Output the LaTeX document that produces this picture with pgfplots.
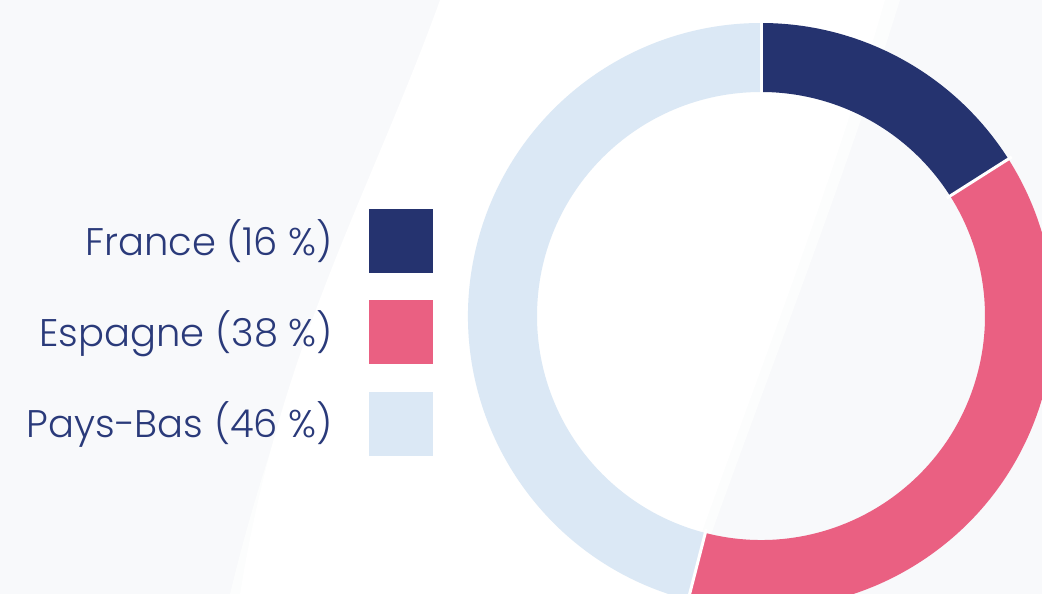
\documentclass[border=0pt]{standalone}
\usepackage{pgfplots}
\pgfplotsset{compat=1.18}
\usepackage{pgfplotstable}
\usepackage{fontspec}
\setmainfont{Poppins}[UprightFont=* Light]
\definecolor{cFr}{HTML}{25336F}
\definecolor{cEs}{HTML}{EA6082}
\definecolor{cPb}{HTML}{DBE8F5}
\definecolor{cTxt}{HTML}{2A3A7A}
\definecolor{cBg}{HTML}{F8F9FB}

\pgfplotstableread{
country share
France 16
Espagne 38
Pays-Bas 46
}\shares
\pgfplotstablegetelem{0}{share}\of\shares \let\sA\pgfplotsretval
\pgfplotstablegetelem{1}{share}\of\shares \let\sB\pgfplotsretval
\pgfplotstablegetelem{2}{share}\of\shares \let\sC\pgfplotsretval
\pgfmathsetmacro{\aA}{90}
\pgfmathsetmacro{\aB}{\aA-3.6*\sA}
\pgfmathsetmacro{\aC}{\aB-3.6*\sB}
\pgfmathsetmacro{\aD}{\aC-3.6*\sC}

\newcommand{\slice}[3]{%
  \fill[#3] ([shift={(axis cs:761,278)}]#1:293pt) arc[start angle=#1,end angle=#2,radius=293pt]
    -- ([shift={(axis cs:761,278)}]#2:224pt) arc[start angle=#2,end angle=#1,radius=224pt] -- cycle;}
\newcommand{\gap}[1]{%
  \draw[white, line width=3pt] ([shift={(axis cs:761,278)}]#1:220pt) -- ([shift={(axis cs:761,278)}]#1:297pt);}

\begin{document}
\begin{tikzpicture}
\begin{axis}[
  x=1pt, y=1pt, scale only axis,
  xmin=0, xmax=1042, ymin=0, ymax=594,
  hide axis, clip=true,
]
% background
\fill[cBg] (axis cs:0,0) rectangle (axis cs:1042,594);
\fill[white!60!cBg] (axis cs:450,594) .. controls (axis cs:380,400) and (axis cs:290,250) .. (axis cs:230,0)
  -- (axis cs:690,0) .. controls (axis cs:760,200) and (axis cs:840,400) .. (axis cs:900,594) -- cycle;
\fill[white] (axis cs:440,594) .. controls (axis cs:370,400) and (axis cs:280,250) .. (axis cs:240,0)
  -- (axis cs:680,0) .. controls (axis cs:750,200) and (axis cs:830,400) .. (axis cs:885,594) -- cycle;
% donut
\slice{\aA}{\aB}{cFr}
\slice{\aB}{\aC}{cEs}
\slice{\aC}{\aD}{cPb}
\gap{\aA}
\gap{\aB}
\gap{\aC}
% legend
\fill[cFr] (axis cs:369,385) rectangle (axis cs:433,321);
\fill[cEs] (axis cs:369,294) rectangle (axis cs:433,230);
\fill[cPb] (axis cs:369,202) rectangle (axis cs:433,138);
\begin{scope}[every node/.style={anchor=base east, text=cTxt, inner sep=0pt, font=\fontsize{38.5}{40}\selectfont}]
\node at (axis cs:333,338) {France (16~\%)};
\node at (axis cs:333,247) {Espagne (38~\%)};
\node at (axis cs:333,156) {Pays-Bas (46~\%)};
\end{scope}
\end{axis}
\end{tikzpicture}
\end{document}
